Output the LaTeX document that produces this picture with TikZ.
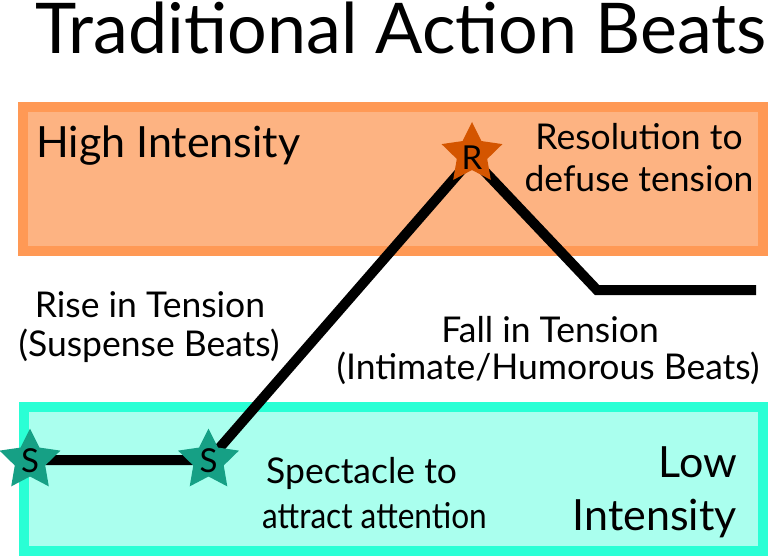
\documentclass[tikz,border=0pt]{standalone}
\usepackage{fontspec}
\setmainfont{Lato}
\usetikzlibrary{shapes.geometric}
\definecolor{orfill}{HTML}{FDB382}
\definecolor{ordraw}{HTML}{FF9955}
\definecolor{cyfill}{HTML}{AAFFEE}
\definecolor{cydraw}{HTML}{2AFFD5}
\definecolor{teal}{HTML}{16A085}
\definecolor{rust}{HTML}{D45500}
\tikzset{
  band/.style={line width=10pt, line join=miter},
  big/.style={inner sep=0pt, font=\fontsize{43}{50}\selectfont},
  mid/.style={inner sep=0pt, font=\fontsize{35.5}{42}\selectfont},
  starbox/.style={star, star points=5, star point ratio=2, minimum size=64pt, inner sep=0pt, draw=none},
  letter/.style={inner sep=0pt, font=\fontsize{33}{38}\selectfont},
  beat/.style={line width=10pt, line join=miter, line cap=butt}
}
\begin{document}
\begin{tikzpicture}[x=1pt,y=-1pt]
\useasboundingbox (0,0) rectangle (768,556);
% boxes
\draw[band, draw=ordraw, fill=orfill] (23,107) rectangle (763,251);
\draw[band, draw=cydraw, fill=cyfill] (24,407) rectangle (763,551);
% title
\node[inner sep=0pt, anchor=base, font=\fontsize{70}{80}\selectfont] (title) at (401,54) {Traditional Action Beats};
% texts
\node[big, anchor=base west] (high) at (36,158) {High Intensity};
\node[mid, anchor=base] (res1) at (639,150) {Resolution to};
\node[mid, anchor=base] (res2) at (639,192) {defuse tension};
\node[mid, anchor=base] (rise1) at (150,317) {Rise in Tension};
\node[mid, anchor=base] (rise2) at (149,356) {(Suspense Beats)};
\node[mid, anchor=base] (fall1) at (550,342) {Fall in Tension};
\node[mid, anchor=base] (fall2) at (548,379) {(Intimate/Humorous Beats)};
\node[mid, anchor=base west] (spec1) at (266,483) {Spectacle to};
\node[mid, anchor=base west] (spec2) at (262,528) {\scalebox{0.89}[1]{attract attention}};
\node[big, anchor=base east] (low1) at (737,477) {Low};
\node[big, anchor=base east] (low2) at (737,530) {Intensity};
% beat line
\coordinate (p1) at (30,460);
\coordinate (p2) at (209,460);
\coordinate (p3) at (472,158);
\coordinate (p4) at (597,290);
\coordinate (p5) at (756,290);
\draw[beat] (p1) -- (p2) -- (p3) -- (p4) -- (p5);
% stars
\node[starbox, fill=teal] (st1) at (30,460.5) {};
\node[starbox, fill=teal] (st2) at (208.5,460.5) {};
\node[starbox, fill=rust] (st3) at (472,154) {};
\node[letter] (ls1) at (30,461) {S};
\node[letter] (ls2) at (208.5,461) {S};
\node[letter] (lr) at (472,158) {R};
\end{tikzpicture}
\end{document}
